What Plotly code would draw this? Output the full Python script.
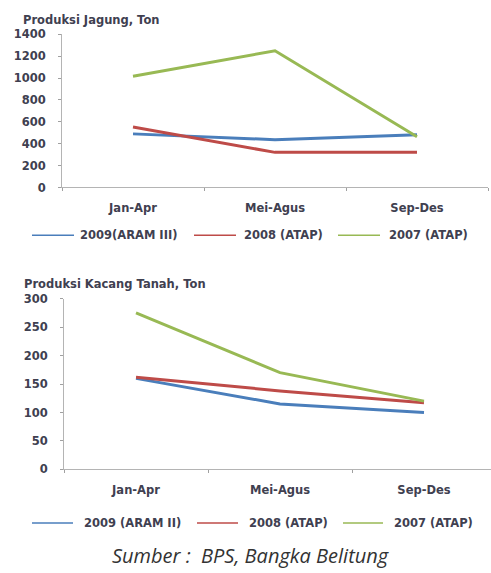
import plotly.graph_objects as go

# Periods (four-month seasons)
periods = ["Jan-Apr", "Mei-Agus", "Sep-Des"]

# Corn production (ton)
jagung_2009 = [490, 437, 482]
jagung_2008 = [553, 321, 321]
jagung_2007 = [1017, 1249, 464]
jagung_names = ["2009(ARAM III)", "2008 (ATAP)", "2007 (ATAP)"]

# Peanut production (ton)
kacang_2009 = [160, 115, 100]
kacang_2008 = [162, 138, 117]
kacang_2007 = [275, 170, 120]
kacang_names = ["2009 (ARAM II)", "2008 (ATAP)", "2007 (ATAP)"]

colors = ["#4A7EBB", "#BE4B48", "#98B954"]

W, H = 491, 573


def px(x):
    return x / W


def py(y):
    return 1 - y / H


fig = go.Figure()

for vals, name, c in zip([jagung_2009, jagung_2008, jagung_2007], jagung_names, colors):
    fig.add_trace(go.Scatter(x=periods, y=vals, name=name, mode="lines",
                             line=dict(color=c, width=3), xaxis="x", yaxis="y",
                             showlegend=False))

for vals, name, c in zip([kacang_2009, kacang_2008, kacang_2007], kacang_names, colors):
    fig.add_trace(go.Scatter(x=periods, y=vals, name=name, mode="lines",
                             line=dict(color=c, width=3), xaxis="x2", yaxis="y2",
                             showlegend=False))

text_color = "#404050"
tick_font = dict(family="DejaVu Sans", size=11.5, color=text_color, weight="bold")
axis_line = dict(showline=True, linecolor="#b4b4b4", linewidth=1, showgrid=False,
                 zeroline=False, ticks="outside", ticklen=3, tickcolor="#a0a0a0",
                 tickfont=tick_font)

fig.update_layout(
    width=W, height=H,
    margin=dict(l=0, r=0, t=0, b=0),
    paper_bgcolor="white", plot_bgcolor="white",
    xaxis=dict(domain=[px(62), px(488)], range=[-0.5, 2.5], type="category",
               tickson="boundaries", anchor="y", ticklabelstandoff=10, **axis_line),
    yaxis=dict(domain=[py(185), py(28)], range=[0, 1400], dtick=200, anchor="x",
               ticklabelstandoff=10, **axis_line),
    xaxis2=dict(domain=[px(64), 1.0], range=[-0.5, -0.5 + (491 - 64) / 144],
                type="category", tickson="boundaries", anchor="y2",
                ticklabelstandoff=10, **axis_line),
    yaxis2=dict(domain=[py(474), py(299)], range=[0, 300], dtick=50, anchor="x2",
                ticklabelstandoff=10, **axis_line),
    showlegend=False,
)

label_font = dict(family="DejaVu Sans", size=11.5, color=text_color, weight="bold")

annotations = [
    dict(text="Produksi Jagung, Ton", x=px(21), y=py(13), xanchor="left", yanchor="middle",
         font=label_font),
    dict(text="Produksi Kacang Tanah, Ton", x=px(22), y=py(284), xanchor="left",
         yanchor="middle", font=label_font),
    dict(text="Sumber :  BPS, Bangka Belitung", x=px(250), y=py(562), xanchor="center",
         yanchor="middle",
         font=dict(family="Open Sans", size=20, color="#333333", style="italic")),
]

shapes = []
# Legend rows: (row y, names, [(line x0, line x1, text x)])
legend_rows = [
    (234, jagung_names, [(32, 74, 78), (194, 236, 242), (338, 380, 387)]),
    (529, kacang_names, [(32, 73, 82), (197, 238, 247), (343, 383, 392)]),
]
for ly, names, spots in legend_rows:
    for (x0, x1, tx), name, c in zip(spots, names, colors):
        shapes.append(dict(type="line", xref="paper", yref="paper",
                           x0=px(x0), x1=px(x1), y0=py(ly), y1=py(ly),
                           line=dict(color=c, width=1.5)))
        annotations.append(dict(text=name, x=px(tx), y=py(ly), xanchor="left",
                                yanchor="middle", font=label_font))

for a in annotations:
    a.update(xref="paper", yref="paper", showarrow=False)

fig.update_layout(annotations=annotations, shapes=shapes)

fig.write_html("out.html")
